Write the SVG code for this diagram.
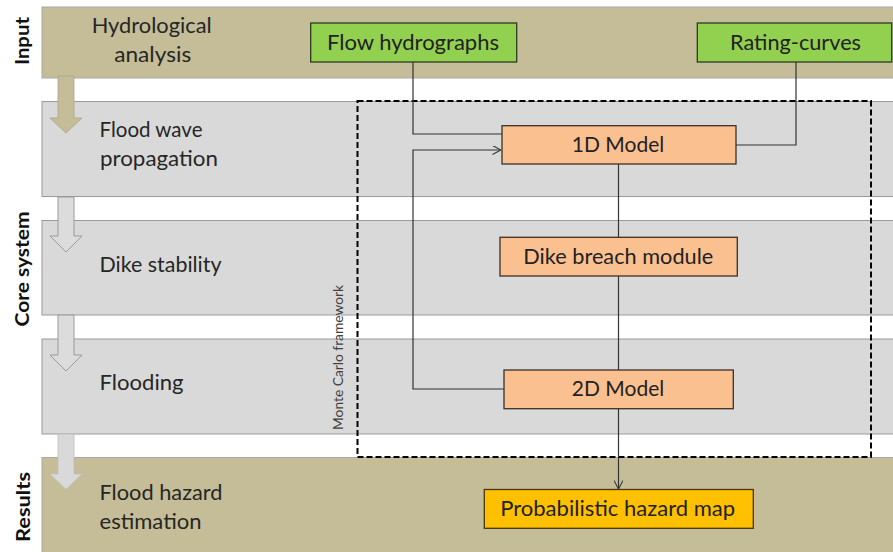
<svg xmlns="http://www.w3.org/2000/svg" width="893" height="552" viewBox="0 0 893 552">
<defs>
<style>
.tan{fill:#c4bd97;stroke:#a8a8a8;stroke-width:1}
.gray{fill:#d9d9d9;stroke:#9a9a9a;stroke-width:1}
.lbl{font-family:Lato,"Liberation Sans",sans-serif;font-size:22px;fill:#262626}
.side{font-family:Lato,"Liberation Sans",sans-serif;font-size:19.5px;font-weight:bold;fill:#111}
.ntx{font-family:Lato,"Liberation Sans",sans-serif;font-size:22px;fill:#222;text-anchor:middle}
.green{fill:#92d050;stroke:#2f3a22;stroke-width:1.3}
.orange{fill:#fac090;stroke:#3d3028;stroke-width:1.3}
.yellow{fill:#ffc000;stroke:#4a3510;stroke-width:1.3}
.con{fill:none;stroke:#333;stroke-width:1.2}
.mc{font-family:Lato,"Liberation Sans",sans-serif;font-size:13.3px;fill:#404040;text-anchor:middle}
</style>
<marker id="open" viewBox="0 0 10 10" refX="9.5" refY="5" markerWidth="9" markerHeight="9" markerUnits="userSpaceOnUse" orient="auto">
<path d="M0,0 L9.5,5 L0,10" fill="none" stroke="#333" stroke-width="1.2"/>
</marker>
</defs>
<rect width="893" height="552" fill="#ffffff"/>
<g id="bands">
<rect class="tan" x="42" y="7" width="860" height="71"/>
<rect class="gray" x="42" y="101.5" width="860" height="95"/>
<rect class="gray" x="42" y="220.5" width="860" height="94.5"/>
<rect class="gray" x="42" y="339" width="860" height="95"/>
<rect class="tan" x="42" y="457.5" width="860" height="100"/>
</g>
<g id="stage-arrows">
<path d="M58,76 L74,76 L74,118 L82,118 L66,133 L50,118 L58,118 Z" fill="#c4bd97" stroke="#aaa48a" stroke-width="0.8"/>
<path d="M58,197 L74,197 L74,236 L82,236 L66,252 L50,236 L58,236 Z" fill="#dcdcdc" stroke="#9a9a9a" stroke-width="1"/>
<path d="M58,315 L74,315 L74,355 L82,355 L66,371 L50,355 L58,355 Z" fill="#dcdcdc" stroke="#9a9a9a" stroke-width="1"/>
<path d="M58,434 L74,434 L74,474 L82,474 L66,489.5 L50,474 L58,474 Z" fill="#d9d9d9" stroke="#bcbcbc" stroke-width="0.8"/>
</g>
<g id="side-labels">
<text class="side" transform="translate(29,41) rotate(-90)" text-anchor="middle" textLength="48" lengthAdjust="spacingAndGlyphs">Input</text>
<text class="side" transform="translate(29,269) rotate(-90)" text-anchor="middle" textLength="115" lengthAdjust="spacingAndGlyphs">Core system</text>
<text class="side" transform="translate(30,507) rotate(-90)" text-anchor="middle" textLength="70" lengthAdjust="spacingAndGlyphs">Results</text>
</g>
<g id="stage-labels">
<text class="lbl" x="151.7" y="32.5" text-anchor="middle" textLength="120" lengthAdjust="spacingAndGlyphs">Hydrological</text>
<text class="lbl" x="152.7" y="62" text-anchor="middle" textLength="77" lengthAdjust="spacingAndGlyphs">analysis</text>
<text class="lbl" x="99.5" y="137" textLength="103" lengthAdjust="spacingAndGlyphs">Flood wave</text>
<text class="lbl" x="100" y="166" textLength="118" lengthAdjust="spacingAndGlyphs">propagation</text>
<text class="lbl" x="99.5" y="271.7" textLength="122" lengthAdjust="spacingAndGlyphs">Dike stability</text>
<text class="lbl" x="99.5" y="390" textLength="84" lengthAdjust="spacingAndGlyphs">Flooding</text>
<text class="lbl" x="99.5" y="500" textLength="123" lengthAdjust="spacingAndGlyphs">Flood hazard</text>
<text class="lbl" x="99.5" y="529" textLength="102" lengthAdjust="spacingAndGlyphs">estimation</text>
</g>
<g id="monte-carlo">
<rect x="357.5" y="101" width="513.5" height="356" fill="none" stroke="#000" stroke-width="2" stroke-dasharray="6,3"/>
<text class="mc" transform="translate(343,357.5) rotate(-90)" textLength="145" lengthAdjust="spacingAndGlyphs">Monte Carlo framework</text>
</g>
<g id="connectors">
<polyline class="con" points="413,62 413,134 502,134"/>
<polyline class="con" points="796,62 796,145 736,145"/>
<polyline class="con" points="504,389 413,389 413,150 501,150" marker-end="url(#open)"/>
<line class="con" x1="618.5" y1="164" x2="618.5" y2="237.3"/>
<line class="con" x1="618.5" y1="276" x2="618.5" y2="370"/>
<line class="con" x1="618.5" y1="408.7" x2="618.5" y2="489" marker-end="url(#open)"/>
</g>
<g id="flow-hydrographs">
<rect class="green" x="310.7" y="23" width="206" height="39"/>
<text class="ntx" x="413" y="50" textLength="172" lengthAdjust="spacingAndGlyphs">Flow hydrographs</text>
</g>
<g id="rating-curves">
<rect class="green" x="697.3" y="23" width="194.4" height="39"/>
<text class="ntx" x="795.5" y="50" textLength="131" lengthAdjust="spacingAndGlyphs">Rating-curves</text>
</g>
<g id="model-1d">
<rect class="orange" x="502" y="125.7" width="234" height="38.3"/>
<text class="ntx" x="618" y="152.3" textLength="92.5" lengthAdjust="spacingAndGlyphs">1D Model</text>
</g>
<g id="dike-breach">
<rect class="orange" x="500" y="237.3" width="237.3" height="38.7"/>
<text class="ntx" x="618.3" y="263.5" textLength="190" lengthAdjust="spacingAndGlyphs">Dike breach module</text>
</g>
<g id="model-2d">
<rect class="orange" x="504" y="370" width="229.3" height="38.7"/>
<text class="ntx" x="618" y="396" textLength="92.5" lengthAdjust="spacingAndGlyphs">2D Model</text>
</g>
<g id="hazard-map">
<rect class="yellow" x="484.3" y="489.5" width="269" height="38.8"/>
<text class="ntx" x="617.7" y="515.7" textLength="235" lengthAdjust="spacingAndGlyphs">Probabilistic hazard map</text>
</g>
</svg>
